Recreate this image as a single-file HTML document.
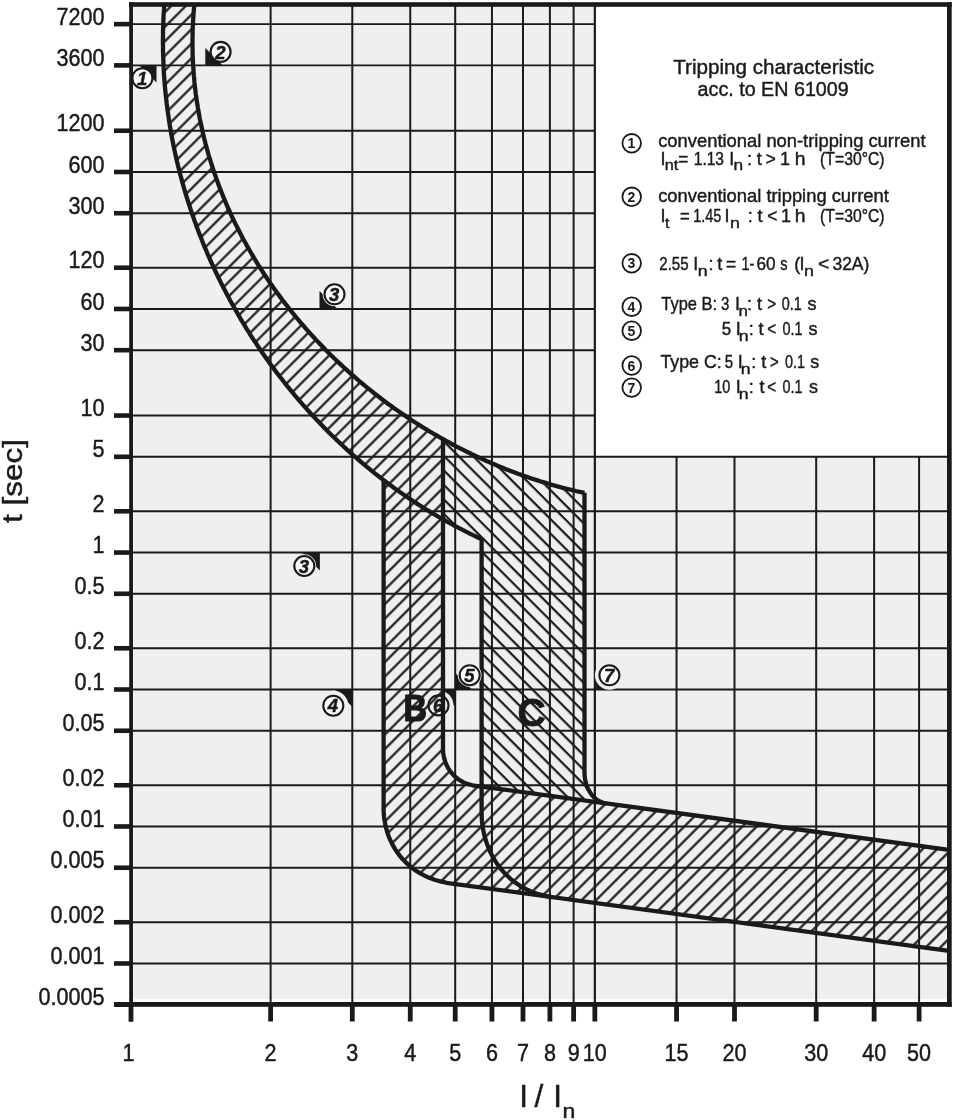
<!DOCTYPE html>
<html><head><meta charset="utf-8"><style>
html,body{margin:0;padding:0;background:#fff;}
svg{display:block;font-family:"Liberation Sans", sans-serif;will-change:transform;}
</style></head><body>
<svg width="953" height="1120" viewBox="0 0 953 1120"><defs><pattern id="hs" patternUnits="userSpaceOnUse" width="10.25" height="10.25" patternTransform="rotate(45)"><rect x="1.2" y="0" width="2.2" height="10.25" fill="#1a1a1a"/></pattern><pattern id="hb" patternUnits="userSpaceOnUse" width="10.25" height="10.25" patternTransform="rotate(-45)"><rect x="0.6" y="0" width="2.2" height="10.25" fill="#1a1a1a"/></pattern></defs><rect width="953" height="1120" fill="#fff"/><rect x="133.5" y="6" width="814" height="993" fill="#efefef"/><rect x="596" y="6" width="352" height="450.5" fill="#fff"/><line x1="270.61" y1="5.0" x2="270.61" y2="1003" stroke="#1a1a1a" stroke-width="2.0"/><line x1="352.30" y1="5.0" x2="352.30" y2="1003" stroke="#1a1a1a" stroke-width="2.0"/><line x1="410.25" y1="5.0" x2="410.25" y2="1003" stroke="#1a1a1a" stroke-width="2.0"/><line x1="455.21" y1="5.0" x2="455.21" y2="1003" stroke="#1a1a1a" stroke-width="2.0"/><line x1="491.94" y1="5.0" x2="491.94" y2="1003" stroke="#1a1a1a" stroke-width="2.0"/><line x1="522.99" y1="5.0" x2="522.99" y2="1003" stroke="#1a1a1a" stroke-width="2.0"/><line x1="549.90" y1="5.0" x2="549.90" y2="1003" stroke="#1a1a1a" stroke-width="2.0"/><line x1="573.62" y1="5.0" x2="573.62" y2="1003" stroke="#1a1a1a" stroke-width="2.0"/><line x1="594.85" y1="5.0" x2="594.85" y2="1003" stroke="#1a1a1a" stroke-width="2.2"/><line x1="676.54" y1="456.8" x2="676.54" y2="1003" stroke="#1a1a1a" stroke-width="2.0"/><line x1="734.49" y1="456.8" x2="734.49" y2="1003" stroke="#1a1a1a" stroke-width="2.0"/><line x1="816.18" y1="456.8" x2="816.18" y2="1003" stroke="#1a1a1a" stroke-width="2.0"/><line x1="874.13" y1="456.8" x2="874.13" y2="1003" stroke="#1a1a1a" stroke-width="2.0"/><line x1="919.09" y1="456.8" x2="919.09" y2="1003" stroke="#1a1a1a" stroke-width="2.0"/><line x1="131" y1="24.15" x2="594.9" y2="24.15" stroke="#1a1a1a" stroke-width="1.9"/><line x1="131" y1="65.39" x2="594.9" y2="65.39" stroke="#1a1a1a" stroke-width="1.9"/><line x1="131" y1="130.74" x2="594.9" y2="130.74" stroke="#1a1a1a" stroke-width="1.9"/><line x1="131" y1="171.98" x2="594.9" y2="171.98" stroke="#1a1a1a" stroke-width="1.9"/><line x1="131" y1="213.21" x2="594.9" y2="213.21" stroke="#1a1a1a" stroke-width="1.9"/><line x1="131" y1="267.72" x2="594.9" y2="267.72" stroke="#1a1a1a" stroke-width="1.9"/><line x1="131" y1="308.96" x2="594.9" y2="308.96" stroke="#1a1a1a" stroke-width="1.9"/><line x1="131" y1="350.19" x2="594.9" y2="350.19" stroke="#1a1a1a" stroke-width="1.9"/><line x1="131" y1="415.55" x2="594.9" y2="415.55" stroke="#1a1a1a" stroke-width="1.9"/><line x1="131" y1="456.79" x2="949.0" y2="456.79" stroke="#1a1a1a" stroke-width="1.9"/><line x1="131" y1="511.29" x2="949.0" y2="511.29" stroke="#1a1a1a" stroke-width="1.9"/><line x1="131" y1="552.53" x2="949.0" y2="552.53" stroke="#1a1a1a" stroke-width="1.9"/><line x1="131" y1="593.77" x2="949.0" y2="593.77" stroke="#1a1a1a" stroke-width="1.9"/><line x1="131" y1="648.27" x2="949.0" y2="648.27" stroke="#1a1a1a" stroke-width="1.9"/><line x1="131" y1="689.51" x2="949.0" y2="689.51" stroke="#1a1a1a" stroke-width="1.9"/><line x1="131" y1="730.75" x2="949.0" y2="730.75" stroke="#1a1a1a" stroke-width="1.9"/><line x1="131" y1="785.25" x2="949.0" y2="785.25" stroke="#1a1a1a" stroke-width="1.9"/><line x1="131" y1="826.49" x2="949.0" y2="826.49" stroke="#1a1a1a" stroke-width="1.9"/><line x1="131" y1="867.73" x2="949.0" y2="867.73" stroke="#1a1a1a" stroke-width="1.9"/><line x1="131" y1="922.23" x2="949.0" y2="922.23" stroke="#1a1a1a" stroke-width="1.9"/><line x1="131" y1="963.47" x2="949.0" y2="963.47" stroke="#1a1a1a" stroke-width="1.9"/><path d="M455.3,689.9 L438.3,689.9 L455.3,706.9 Z" fill="#1a1a1a"/><circle cx="438.5" cy="705.4" r="15" fill="#efefef"/><path d="M164.3,4.0 L164.1,6.6 L164.0,9.4 L163.8,12.2 L163.6,14.9 L163.5,17.7 L163.4,20.5 L163.3,23.3 L163.2,26.1 L163.1,28.9 L163.0,31.6 L163.0,34.4 L163.0,37.2 L162.9,40.0 L162.9,42.8 L163.0,45.5 L163.0,48.3 L163.0,51.1 L163.1,53.9 L163.2,56.6 L163.3,59.4 L163.4,62.2 L163.5,65.0 L163.6,67.7 L163.8,70.5 L163.9,73.3 L164.1,76.0 L164.3,78.8 L164.5,81.5 L164.7,84.3 L165.0,87.1 L165.2,89.8 L165.5,92.6 L165.8,95.3 L166.1,98.1 L166.4,100.8 L166.7,103.6 L167.1,106.3 L167.4,109.1 L167.8,111.8 L168.2,114.5 L168.6,117.3 L169.0,120.0 L169.4,122.7 L169.8,125.5 L170.3,128.2 L170.8,130.9 L171.2,133.6 L171.7,136.3 L172.3,139.1 L172.8,141.8 L173.3,144.5 L173.9,147.2 L174.4,149.9 L175.0,152.6 L175.6,155.3 L176.2,158.0 L176.8,160.7 L177.5,163.4 L178.1,166.0 L178.8,168.7 L179.5,171.4 L180.1,174.1 L180.9,176.7 L181.6,179.4 L182.3,182.1 L183.0,184.7 L183.8,187.4 L184.6,190.0 L185.3,192.7 L186.1,195.3 L187.0,198.0 L187.8,200.6 L188.6,203.2 L189.5,205.8 L190.3,208.5 L191.2,211.1 L192.1,213.7 L193.0,216.3 L193.9,218.9 L194.8,221.5 L195.8,224.1 L196.7,226.7 L197.7,229.3 L198.7,231.9 L199.6,234.4 L200.7,237.0 L201.7,239.6 L202.7,242.2 L203.7,244.7 L204.8,247.3 L205.9,249.8 L206.9,252.3 L208.0,254.9 L209.1,257.4 L210.2,259.9 L211.4,262.5 L212.5,265.0 L213.7,267.5 L214.8,270.0 L216.0,272.5 L217.2,275.0 L218.4,277.5 L219.6,279.9 L220.8,282.4 L222.1,284.9 L223.3,287.4 L224.6,289.8 L225.9,292.3 L227.1,294.7 L228.4,297.1 L229.7,299.6 L231.1,302.0 L232.4,304.4 L233.7,306.8 L235.1,309.2 L236.5,311.6 L237.8,314.0 L239.2,316.4 L240.6,318.8 L242.0,321.2 L243.5,323.5 L244.9,325.9 L246.3,328.3 L247.8,330.6 L249.3,332.9 L250.7,335.3 L252.2,337.6 L253.7,339.9 L255.3,342.2 L256.8,344.5 L258.3,346.8 L259.9,349.1 L261.4,351.4 L263.0,353.7 L264.6,355.9 L266.2,358.2 L267.8,360.4 L269.4,362.7 L271.0,364.9 L272.6,367.1 L274.3,369.4 L275.9,371.6 L277.6,373.8 L279.3,376.0 L281.0,378.1 L282.7,380.3 L284.4,382.5 L286.1,384.7 L287.8,386.8 L289.6,388.9 L291.3,391.1 L293.1,393.2 L294.8,395.3 L296.6,397.4 L298.4,399.5 L300.2,401.6 L302.0,403.7 L303.8,405.8 L305.7,407.9 L307.5,409.9 L309.4,412.0 L311.2,414.0 L313.1,416.0 L315.0,418.0 L316.9,420.1 L318.8,422.1 L320.7,424.1 L322.6,426.0 L324.5,428.0 L326.5,430.0 L328.4,431.9 L330.4,433.9 L332.3,435.8 L334.3,437.7 L336.3,439.6 L338.3,441.5 L340.3,443.4 L342.3,445.3 L344.3,447.2 L346.4,449.1 L348.4,450.9 L350.5,452.8 L352.5,454.6 L354.6,456.4 L356.7,458.2 L358.8,460.0 L360.9,461.8 L363.0,463.6 L365.1,465.4 L367.2,467.1 L369.4,468.9 L371.5,470.6 L373.6,472.4 L375.8,474.1 L378.0,475.8 L380.2,477.5 L382.3,479.2 L383.6,480.1 L383.6,480.1 L383.6,808.0 L383.6,810.8 L383.8,813.6 L384.0,816.4 L384.3,819.1 L384.8,821.8 L385.3,824.5 L385.9,827.1 L386.6,829.7 L387.3,832.3 L388.2,834.9 L389.1,837.3 L390.2,839.8 L391.3,842.2 L392.5,844.6 L393.8,846.9 L395.1,849.1 L396.6,851.4 L398.1,853.5 L399.7,855.6 L401.4,857.7 L403.1,859.6 L405.0,861.6 L406.9,863.4 L408.8,865.2 L410.9,866.9 L413.0,868.6 L415.2,870.2 L417.5,871.7 L419.8,873.1 L422.3,874.4 L424.7,875.7 L427.3,876.9 L429.9,878.0 L432.6,879.0 L435.3,880.0 L438.1,880.8 L441.0,881.6 L443.9,882.2 L446.9,882.8 L450.0,883.3 L949.0,950.9 L949.0,849.8 L474.0,785.5 L472.7,785.3 L471.5,785.0 L470.2,784.7 L469.0,784.4 L467.8,784.0 L466.6,783.6 L465.4,783.2 L464.2,782.7 L463.1,782.1 L462.0,781.5 L460.9,780.9 L459.8,780.2 L458.7,779.5 L457.7,778.8 L456.7,778.0 L455.7,777.2 L454.8,776.4 L453.9,775.5 L453.0,774.5 L452.1,773.6 L451.3,772.6 L450.5,771.6 L449.7,770.5 L449.0,769.4 L448.3,768.3 L447.7,767.1 L447.0,766.0 L446.5,764.7 L445.9,763.5 L445.4,762.2 L445.0,760.9 L444.6,759.6 L444.2,758.2 L443.9,756.8 L443.6,755.4 L443.4,754.0 L443.2,752.5 L443.1,751.0 L443.0,749.5 L443.0,748.0 L443.0,439.2 L441.1,438.1 L438.6,436.7 L436.1,435.2 L433.6,433.8 L431.2,432.3 L428.7,430.9 L426.3,429.4 L423.8,427.9 L421.4,426.4 L419.0,424.8 L416.5,423.3 L414.1,421.8 L411.7,420.2 L409.3,418.6 L407.0,417.0 L404.6,415.4 L402.2,413.8 L399.9,412.2 L397.5,410.5 L395.2,408.9 L392.8,407.2 L390.5,405.5 L388.2,403.9 L385.9,402.2 L383.6,400.4 L381.3,398.7 L379.1,397.0 L376.8,395.2 L374.5,393.5 L372.3,391.7 L370.1,389.9 L367.8,388.1 L365.6,386.3 L363.4,384.5 L361.2,382.6 L359.0,380.8 L356.8,378.9 L354.7,377.0 L352.5,375.2 L350.4,373.3 L348.3,371.4 L346.1,369.4 L344.0,367.5 L341.9,365.6 L339.8,363.6 L337.7,361.7 L335.7,359.7 L333.6,357.7 L331.6,355.7 L329.5,353.7 L327.5,351.7 L325.5,349.7 L323.5,347.6 L321.5,345.6 L319.5,343.5 L317.6,341.4 L315.6,339.4 L313.7,337.3 L311.8,335.2 L309.8,333.1 L307.9,330.9 L306.0,328.8 L304.2,326.7 L302.3,324.5 L300.4,322.3 L298.6,320.2 L296.8,318.0 L295.0,315.8 L293.2,313.6 L291.4,311.4 L289.6,309.1 L287.8,306.9 L286.1,304.7 L284.3,302.4 L282.6,300.2 L280.9,297.9 L279.2,295.6 L277.5,293.3 L275.9,291.0 L274.2,288.7 L272.6,286.4 L270.9,284.1 L269.3,281.7 L267.7,279.4 L266.1,277.0 L264.6,274.7 L263.0,272.3 L261.5,269.9 L260.0,267.5 L258.4,265.1 L256.9,262.7 L255.5,260.3 L254.0,257.9 L252.5,255.4 L251.1,253.0 L249.7,250.5 L248.3,248.1 L246.9,245.6 L245.5,243.1 L244.2,240.7 L242.8,238.2 L241.5,235.7 L240.2,233.2 L238.9,230.6 L237.6,228.1 L236.3,225.6 L235.1,223.1 L233.8,220.5 L232.6,218.0 L231.4,215.4 L230.2,212.8 L229.1,210.2 L227.9,207.7 L226.8,205.1 L225.7,202.5 L224.6,199.9 L223.5,197.3 L222.4,194.6 L221.4,192.0 L220.4,189.4 L219.3,186.7 L218.3,184.1 L217.4,181.4 L216.4,178.8 L215.5,176.1 L214.5,173.4 L213.6,170.7 L212.7,168.0 L211.9,165.3 L211.0,162.6 L210.2,159.9 L209.3,157.2 L208.5,154.5 L207.8,151.8 L207.0,149.0 L206.3,146.3 L205.5,143.6 L204.8,140.8 L204.1,138.0 L203.5,135.3 L202.8,132.5 L202.2,129.7 L201.6,127.0 L201.0,124.2 L200.4,121.4 L199.8,118.6 L199.3,115.8 L198.8,113.0 L198.3,110.2 L197.8,107.3 L197.4,104.5 L196.9,101.7 L196.5,98.8 L196.1,96.0 L195.7,93.2 L195.4,90.3 L195.0,87.4 L194.7,84.6 L194.4,81.7 L194.2,78.8 L193.9,76.0 L193.7,73.1 L193.5,70.2 L193.3,67.3 L193.1,64.4 L192.9,61.5 L192.8,58.6 L192.7,55.7 L192.6,52.8 L192.6,49.9 L192.5,47.0 L192.5,44.0 L192.5,41.1 L192.5,38.2 L192.6,35.3 L192.6,32.3 L192.7,29.4 L192.8,26.4 L193.0,23.5 L193.1,20.5 L193.3,17.6 L193.5,14.6 L193.7,11.6 L193.9,8.7 L194.2,5.7 L194.5,4.0 Z" fill="url(#hs)"/><path d="M443.0,439.2 L443.6,439.5 L446.1,440.9 L448.6,442.2 L451.1,443.6 L453.6,445.0 L456.1,446.3 L458.7,447.6 L461.2,448.9 L463.8,450.2 L466.3,451.5 L468.9,452.7 L471.4,454.0 L474.0,455.2 L476.6,456.4 L479.2,457.7 L481.8,458.8 L484.4,460.0 L487.0,461.2 L489.6,462.3 L492.2,463.5 L494.8,464.6 L497.5,465.7 L500.1,466.8 L502.7,467.8 L505.4,468.9 L508.0,470.0 L510.7,471.0 L513.4,472.0 L516.0,473.0 L518.7,474.0 L521.4,474.9 L524.0,475.9 L526.7,476.8 L529.4,477.7 L532.1,478.7 L534.8,479.5 L537.5,480.4 L540.2,481.3 L542.9,482.1 L545.7,482.9 L548.4,483.8 L551.1,484.6 L553.8,485.3 L556.6,486.1 L559.3,486.8 L562.0,487.6 L564.8,488.3 L567.5,489.0 L570.3,489.7 L573.0,490.3 L575.8,491.0 L578.5,491.6 L581.3,492.2 L584.5,492.8 L584.5,772.0 L584.5,773.3 L584.6,774.5 L584.7,775.8 L584.8,777.0 L584.9,778.2 L585.1,779.4 L585.3,780.6 L585.6,781.7 L585.9,782.8 L586.2,783.9 L586.5,785.0 L586.9,786.1 L587.3,787.1 L587.7,788.1 L588.2,789.1 L588.7,790.0 L589.2,790.9 L589.7,791.8 L590.2,792.7 L590.8,793.5 L591.4,794.3 L592.0,795.1 L592.7,795.9 L593.3,796.6 L594.0,797.3 L594.7,797.9 L595.4,798.5 L596.1,799.1 L596.9,799.7 L597.7,800.2 L598.4,800.7 L599.2,801.1 L600.0,801.5 L600.8,801.9 L601.7,802.2 L602.5,802.5 L603.4,802.8 L604.2,803.0 L605.1,803.2 L606.0,803.3 L481.6,786.5 L481.6,539.1 L479.0,538.0 L476.5,536.8 L474.0,535.6 L471.5,534.4 L469.0,533.2 L466.5,531.9 L464.1,530.7 L461.6,529.4 L459.1,528.1 L456.7,526.9 L454.2,525.6 L451.8,524.2 L449.4,522.9 L446.9,521.6 L444.5,520.2 L443.0,519.4 Z" fill="url(#hb)"/><path d="M164.3,4.0 L164.1,6.6 L164.0,9.4 L163.8,12.2 L163.6,14.9 L163.5,17.7 L163.4,20.5 L163.3,23.3 L163.2,26.1 L163.1,28.9 L163.0,31.6 L163.0,34.4 L163.0,37.2 L162.9,40.0 L162.9,42.8 L163.0,45.5 L163.0,48.3 L163.0,51.1 L163.1,53.9 L163.2,56.6 L163.3,59.4 L163.4,62.2 L163.5,65.0 L163.6,67.7 L163.8,70.5 L163.9,73.3 L164.1,76.0 L164.3,78.8 L164.5,81.5 L164.7,84.3 L165.0,87.1 L165.2,89.8 L165.5,92.6 L165.8,95.3 L166.1,98.1 L166.4,100.8 L166.7,103.6 L167.1,106.3 L167.4,109.1 L167.8,111.8 L168.2,114.5 L168.6,117.3 L169.0,120.0 L169.4,122.7 L169.8,125.5 L170.3,128.2 L170.8,130.9 L171.2,133.6 L171.7,136.3 L172.3,139.1 L172.8,141.8 L173.3,144.5 L173.9,147.2 L174.4,149.9 L175.0,152.6 L175.6,155.3 L176.2,158.0 L176.8,160.7 L177.5,163.4 L178.1,166.0 L178.8,168.7 L179.5,171.4 L180.1,174.1 L180.9,176.7 L181.6,179.4 L182.3,182.1 L183.0,184.7 L183.8,187.4 L184.6,190.0 L185.3,192.7 L186.1,195.3 L187.0,198.0 L187.8,200.6 L188.6,203.2 L189.5,205.8 L190.3,208.5 L191.2,211.1 L192.1,213.7 L193.0,216.3 L193.9,218.9 L194.8,221.5 L195.8,224.1 L196.7,226.7 L197.7,229.3 L198.7,231.9 L199.6,234.4 L200.7,237.0 L201.7,239.6 L202.7,242.2 L203.7,244.7 L204.8,247.3 L205.9,249.8 L206.9,252.3 L208.0,254.9 L209.1,257.4 L210.2,259.9 L211.4,262.5 L212.5,265.0 L213.7,267.5 L214.8,270.0 L216.0,272.5 L217.2,275.0 L218.4,277.5 L219.6,279.9 L220.8,282.4 L222.1,284.9 L223.3,287.4 L224.6,289.8 L225.9,292.3 L227.1,294.7 L228.4,297.1 L229.7,299.6 L231.1,302.0 L232.4,304.4 L233.7,306.8 L235.1,309.2 L236.5,311.6 L237.8,314.0 L239.2,316.4 L240.6,318.8 L242.0,321.2 L243.5,323.5 L244.9,325.9 L246.3,328.3 L247.8,330.6 L249.3,332.9 L250.7,335.3 L252.2,337.6 L253.7,339.9 L255.3,342.2 L256.8,344.5 L258.3,346.8 L259.9,349.1 L261.4,351.4 L263.0,353.7 L264.6,355.9 L266.2,358.2 L267.8,360.4 L269.4,362.7 L271.0,364.9 L272.6,367.1 L274.3,369.4 L275.9,371.6 L277.6,373.8 L279.3,376.0 L281.0,378.1 L282.7,380.3 L284.4,382.5 L286.1,384.7 L287.8,386.8 L289.6,388.9 L291.3,391.1 L293.1,393.2 L294.8,395.3 L296.6,397.4 L298.4,399.5 L300.2,401.6 L302.0,403.7 L303.8,405.8 L305.7,407.9 L307.5,409.9 L309.4,412.0 L311.2,414.0 L313.1,416.0 L315.0,418.0 L316.9,420.1 L318.8,422.1 L320.7,424.1 L322.6,426.0 L324.5,428.0 L326.5,430.0 L328.4,431.9 L330.4,433.9 L332.3,435.8 L334.3,437.7 L336.3,439.6 L338.3,441.5 L340.3,443.4 L342.3,445.3 L344.3,447.2 L346.4,449.1 L348.4,450.9 L350.5,452.8 L352.5,454.6 L354.6,456.4 L356.7,458.2 L358.8,460.0 L360.9,461.8 L363.0,463.6 L365.1,465.4 L367.2,467.1 L369.4,468.9 L371.5,470.6 L373.6,472.4 L375.8,474.1 L378.0,475.8 L380.2,477.5 L382.3,479.2 L384.5,480.8 L386.7,482.5 L389.0,484.1 L391.2,485.8 L393.4,487.4 L395.6,489.0 L397.9,490.6 L400.1,492.2 L402.4,493.8 L404.7,495.4 L407.0,496.9 L409.2,498.5 L411.5,500.0 L413.8,501.5 L416.2,503.1 L418.5,504.6 L420.8,506.0 L423.1,507.5 L425.5,509.0 L427.8,510.4 L430.2,511.9 L432.6,513.3 L434.9,514.7 L437.3,516.1 L439.7,517.5 L442.1,518.9 L444.5,520.2 L446.9,521.6 L449.4,522.9 L451.8,524.2 L454.2,525.6 L456.7,526.9 L459.1,528.1 L461.6,529.4 L464.1,530.7 L466.5,531.9 L469.0,533.2 L471.5,534.4 L474.0,535.6 L476.5,536.8 L479.0,538.0 L481.6,539.1 L481.6,539.1" fill="none" stroke="#1a1a1a" stroke-width="4.3" stroke-linejoin="round"/><path d="M194.5,4.0 L194.2,5.7 L193.9,8.7 L193.7,11.6 L193.5,14.6 L193.3,17.6 L193.1,20.5 L193.0,23.5 L192.8,26.4 L192.7,29.4 L192.6,32.3 L192.6,35.3 L192.5,38.2 L192.5,41.1 L192.5,44.0 L192.5,47.0 L192.6,49.9 L192.6,52.8 L192.7,55.7 L192.8,58.6 L192.9,61.5 L193.1,64.4 L193.3,67.3 L193.5,70.2 L193.7,73.1 L193.9,76.0 L194.2,78.8 L194.4,81.7 L194.7,84.6 L195.0,87.4 L195.4,90.3 L195.7,93.2 L196.1,96.0 L196.5,98.8 L196.9,101.7 L197.4,104.5 L197.8,107.3 L198.3,110.2 L198.8,113.0 L199.3,115.8 L199.8,118.6 L200.4,121.4 L201.0,124.2 L201.6,127.0 L202.2,129.7 L202.8,132.5 L203.5,135.3 L204.1,138.0 L204.8,140.8 L205.5,143.6 L206.3,146.3 L207.0,149.0 L207.8,151.8 L208.5,154.5 L209.3,157.2 L210.2,159.9 L211.0,162.6 L211.9,165.3 L212.7,168.0 L213.6,170.7 L214.5,173.4 L215.5,176.1 L216.4,178.8 L217.4,181.4 L218.3,184.1 L219.3,186.7 L220.4,189.4 L221.4,192.0 L222.4,194.6 L223.5,197.3 L224.6,199.9 L225.7,202.5 L226.8,205.1 L227.9,207.7 L229.1,210.2 L230.2,212.8 L231.4,215.4 L232.6,218.0 L233.8,220.5 L235.1,223.1 L236.3,225.6 L237.6,228.1 L238.9,230.6 L240.2,233.2 L241.5,235.7 L242.8,238.2 L244.2,240.7 L245.5,243.1 L246.9,245.6 L248.3,248.1 L249.7,250.5 L251.1,253.0 L252.5,255.4 L254.0,257.9 L255.5,260.3 L256.9,262.7 L258.4,265.1 L260.0,267.5 L261.5,269.9 L263.0,272.3 L264.6,274.7 L266.1,277.0 L267.7,279.4 L269.3,281.7 L270.9,284.1 L272.6,286.4 L274.2,288.7 L275.9,291.0 L277.5,293.3 L279.2,295.6 L280.9,297.9 L282.6,300.2 L284.3,302.4 L286.1,304.7 L287.8,306.9 L289.6,309.1 L291.4,311.4 L293.2,313.6 L295.0,315.8 L296.8,318.0 L298.6,320.2 L300.4,322.3 L302.3,324.5 L304.2,326.7 L306.0,328.8 L307.9,330.9 L309.8,333.1 L311.8,335.2 L313.7,337.3 L315.6,339.4 L317.6,341.4 L319.5,343.5 L321.5,345.6 L323.5,347.6 L325.5,349.7 L327.5,351.7 L329.5,353.7 L331.6,355.7 L333.6,357.7 L335.7,359.7 L337.7,361.7 L339.8,363.6 L341.9,365.6 L344.0,367.5 L346.1,369.4 L348.3,371.4 L350.4,373.3 L352.5,375.2 L354.7,377.0 L356.8,378.9 L359.0,380.8 L361.2,382.6 L363.4,384.5 L365.6,386.3 L367.8,388.1 L370.1,389.9 L372.3,391.7 L374.5,393.5 L376.8,395.2 L379.1,397.0 L381.3,398.7 L383.6,400.4 L385.9,402.2 L388.2,403.9 L390.5,405.5 L392.8,407.2 L395.2,408.9 L397.5,410.5 L399.9,412.2 L402.2,413.8 L404.6,415.4 L407.0,417.0 L409.3,418.6 L411.7,420.2 L414.1,421.8 L416.5,423.3 L419.0,424.8 L421.4,426.4 L423.8,427.9 L426.3,429.4 L428.7,430.9 L431.2,432.3 L433.6,433.8 L436.1,435.2 L438.6,436.7 L441.1,438.1 L443.6,439.5 L446.1,440.9 L448.6,442.2 L451.1,443.6 L453.6,445.0 L456.1,446.3 L458.7,447.6 L461.2,448.9 L463.8,450.2 L466.3,451.5 L468.9,452.7 L471.4,454.0 L474.0,455.2 L476.6,456.4 L479.2,457.7 L481.8,458.8 L484.4,460.0 L487.0,461.2 L489.6,462.3 L492.2,463.5 L494.8,464.6 L497.5,465.7 L500.1,466.8 L502.7,467.8 L505.4,468.9 L508.0,470.0 L510.7,471.0 L513.4,472.0 L516.0,473.0 L518.7,474.0 L521.4,474.9 L524.0,475.9 L526.7,476.8 L529.4,477.7 L532.1,478.7 L534.8,479.5 L537.5,480.4 L540.2,481.3 L542.9,482.1 L545.7,482.9 L548.4,483.8 L551.1,484.6 L553.8,485.3 L556.6,486.1 L559.3,486.8 L562.0,487.6 L564.8,488.3 L567.5,489.0 L570.3,489.7 L573.0,490.3 L575.8,491.0 L578.5,491.6 L581.3,492.2 L584.5,492.8 L584.5,492.8" fill="none" stroke="#1a1a1a" stroke-width="4.3" stroke-linejoin="round"/><path d="M383.6,480.1 L383.6,808.0 L383.6,810.8 L383.8,813.6 L384.0,816.4 L384.3,819.1 L384.8,821.8 L385.3,824.5 L385.9,827.1 L386.6,829.7 L387.3,832.3 L388.2,834.9 L389.1,837.3 L390.2,839.8 L391.3,842.2 L392.5,844.6 L393.8,846.9 L395.1,849.1 L396.6,851.4 L398.1,853.5 L399.7,855.6 L401.4,857.7 L403.1,859.6 L405.0,861.6 L406.9,863.4 L408.8,865.2 L410.9,866.9 L413.0,868.6 L415.2,870.2 L417.5,871.7 L419.8,873.1 L422.3,874.4 L424.7,875.7 L427.3,876.9 L429.9,878.0 L432.6,879.0 L435.3,880.0 L438.1,880.8 L441.0,881.6 L443.9,882.2 L446.9,882.8 L450.0,883.3 L949.0,950.9" fill="none" stroke="#1a1a1a" stroke-width="4.3" stroke-linejoin="round"/><path d="M443.0,439.2 L443.0,748.0 L443.0,749.5 L443.1,751.0 L443.2,752.5 L443.4,754.0 L443.6,755.4 L443.9,756.8 L444.2,758.2 L444.6,759.6 L445.0,760.9 L445.4,762.2 L445.9,763.5 L446.5,764.7 L447.0,766.0 L447.7,767.1 L448.3,768.3 L449.0,769.4 L449.7,770.5 L450.5,771.6 L451.3,772.6 L452.1,773.6 L453.0,774.5 L453.9,775.5 L454.8,776.4 L455.7,777.2 L456.7,778.0 L457.7,778.8 L458.7,779.5 L459.8,780.2 L460.9,780.9 L462.0,781.5 L463.1,782.1 L464.2,782.7 L465.4,783.2 L466.6,783.6 L467.8,784.0 L469.0,784.4 L470.2,784.7 L471.5,785.0 L472.7,785.3 L474.0,785.5 L949.0,849.8" fill="none" stroke="#1a1a1a" stroke-width="4.3" stroke-linejoin="round"/><path d="M481.6,539.1 L481.6,812.0 L481.7,815.2 L481.8,818.3 L482.0,821.5 L482.4,824.6 L482.8,827.6 L483.4,830.7 L484.0,833.7 L484.7,836.6 L485.6,839.5 L486.5,842.4 L487.5,845.2 L488.6,848.0 L489.7,850.8 L491.0,853.4 L492.4,856.1 L493.8,858.6 L495.3,861.1 L497.0,863.6 L498.7,866.0 L500.4,868.3 L502.3,870.5 L504.2,872.7 L506.3,874.8 L508.4,876.8 L510.5,878.8 L512.8,880.7 L515.1,882.4 L517.5,884.1 L520.0,885.8 L522.6,887.3 L525.2,888.7 L527.9,890.1 L530.7,891.3 L533.5,892.4 L536.4,893.5 L539.4,894.4 L542.5,895.2 L545.6,896.0 L548.8,896.6 L552.0,897.1" fill="none" stroke="#1a1a1a" stroke-width="4.3" stroke-linejoin="round"/><path d="M584.5,492.8 L584.5,772.0 L584.5,773.3 L584.6,774.5 L584.7,775.8 L584.8,777.0 L584.9,778.2 L585.1,779.4 L585.3,780.6 L585.6,781.7 L585.9,782.8 L586.2,783.9 L586.5,785.0 L586.9,786.1 L587.3,787.1 L587.7,788.1 L588.2,789.1 L588.7,790.0 L589.2,790.9 L589.7,791.8 L590.2,792.7 L590.8,793.5 L591.4,794.3 L592.0,795.1 L592.7,795.9 L593.3,796.6 L594.0,797.3 L594.7,797.9 L595.4,798.5 L596.1,799.1 L596.9,799.7 L597.7,800.2 L598.4,800.7 L599.2,801.1 L600.0,801.5 L600.8,801.9 L601.7,802.2 L602.5,802.5 L603.4,802.8 L604.2,803.0 L605.1,803.2 L606.0,803.3" fill="none" stroke="#1a1a1a" stroke-width="4.3" stroke-linejoin="round"/><rect x="129" y="2.2" width="822.7" height="4.6" fill="#1a1a1a"/><rect x="947" y="2.2" width="4.7" height="1004.6" fill="#1a1a1a"/><rect x="129.2" y="2.2" width="3.8" height="1019.4" fill="#1a1a1a"/><rect x="114" y="1002" width="837.7" height="4.8" fill="#1a1a1a"/><rect x="114" y="21.85" width="17" height="4.6" fill="#1a1a1a"/><text transform="translate(104.50,24.75) scale(0.93,1)" text-anchor="end" font-size="23.2" fill="#1a1a1a" stroke="#1a1a1a" stroke-width="0.45">7200</text><rect x="114" y="63.09" width="17" height="4.6" fill="#1a1a1a"/><text transform="translate(104.50,65.99) scale(0.93,1)" text-anchor="end" font-size="23.2" fill="#1a1a1a" stroke="#1a1a1a" stroke-width="0.45">3600</text><rect x="114" y="128.44" width="17" height="4.6" fill="#1a1a1a"/><text transform="translate(104.50,131.34) scale(0.93,1)" text-anchor="end" font-size="23.2" fill="#1a1a1a" stroke="#1a1a1a" stroke-width="0.45">1200</text><rect x="114" y="169.68" width="17" height="4.6" fill="#1a1a1a"/><text transform="translate(104.50,172.58) scale(0.93,1)" text-anchor="end" font-size="23.2" fill="#1a1a1a" stroke="#1a1a1a" stroke-width="0.45">600</text><rect x="114" y="210.91" width="17" height="4.6" fill="#1a1a1a"/><text transform="translate(104.50,213.81) scale(0.93,1)" text-anchor="end" font-size="23.2" fill="#1a1a1a" stroke="#1a1a1a" stroke-width="0.45">300</text><rect x="114" y="265.42" width="17" height="4.6" fill="#1a1a1a"/><text transform="translate(104.50,268.32) scale(0.93,1)" text-anchor="end" font-size="23.2" fill="#1a1a1a" stroke="#1a1a1a" stroke-width="0.45">120</text><rect x="114" y="306.66" width="17" height="4.6" fill="#1a1a1a"/><text transform="translate(104.50,309.56) scale(0.93,1)" text-anchor="end" font-size="23.2" fill="#1a1a1a" stroke="#1a1a1a" stroke-width="0.45">60</text><rect x="114" y="347.89" width="17" height="4.6" fill="#1a1a1a"/><text transform="translate(104.50,350.79) scale(0.93,1)" text-anchor="end" font-size="23.2" fill="#1a1a1a" stroke="#1a1a1a" stroke-width="0.45">30</text><rect x="114" y="413.25" width="17" height="4.6" fill="#1a1a1a"/><text transform="translate(104.50,416.15) scale(0.93,1)" text-anchor="end" font-size="23.2" fill="#1a1a1a" stroke="#1a1a1a" stroke-width="0.45">10</text><rect x="114" y="454.49" width="17" height="4.6" fill="#1a1a1a"/><text transform="translate(104.50,457.39) scale(0.93,1)" text-anchor="end" font-size="23.2" fill="#1a1a1a" stroke="#1a1a1a" stroke-width="0.45">5</text><rect x="114" y="508.99" width="17" height="4.6" fill="#1a1a1a"/><text transform="translate(104.50,511.89) scale(0.93,1)" text-anchor="end" font-size="23.2" fill="#1a1a1a" stroke="#1a1a1a" stroke-width="0.45">2</text><rect x="114" y="550.23" width="17" height="4.6" fill="#1a1a1a"/><text transform="translate(104.50,553.13) scale(0.93,1)" text-anchor="end" font-size="23.2" fill="#1a1a1a" stroke="#1a1a1a" stroke-width="0.45">1</text><rect x="114" y="591.47" width="17" height="4.6" fill="#1a1a1a"/><text transform="translate(104.50,594.37) scale(0.93,1)" text-anchor="end" font-size="23.2" fill="#1a1a1a" stroke="#1a1a1a" stroke-width="0.45">0.5</text><rect x="114" y="645.97" width="17" height="4.6" fill="#1a1a1a"/><text transform="translate(104.50,648.87) scale(0.93,1)" text-anchor="end" font-size="23.2" fill="#1a1a1a" stroke="#1a1a1a" stroke-width="0.45">0.2</text><rect x="114" y="687.21" width="17" height="4.6" fill="#1a1a1a"/><text transform="translate(104.50,690.11) scale(0.93,1)" text-anchor="end" font-size="23.2" fill="#1a1a1a" stroke="#1a1a1a" stroke-width="0.45">0.1</text><rect x="114" y="728.45" width="17" height="4.6" fill="#1a1a1a"/><text transform="translate(104.50,731.35) scale(0.93,1)" text-anchor="end" font-size="23.2" fill="#1a1a1a" stroke="#1a1a1a" stroke-width="0.45">0.05</text><rect x="114" y="782.95" width="17" height="4.6" fill="#1a1a1a"/><text transform="translate(104.50,785.85) scale(0.93,1)" text-anchor="end" font-size="23.2" fill="#1a1a1a" stroke="#1a1a1a" stroke-width="0.45">0.02</text><rect x="114" y="824.19" width="17" height="4.6" fill="#1a1a1a"/><text transform="translate(104.50,827.09) scale(0.93,1)" text-anchor="end" font-size="23.2" fill="#1a1a1a" stroke="#1a1a1a" stroke-width="0.45">0.01</text><rect x="114" y="865.43" width="17" height="4.6" fill="#1a1a1a"/><text transform="translate(104.50,868.33) scale(0.93,1)" text-anchor="end" font-size="23.2" fill="#1a1a1a" stroke="#1a1a1a" stroke-width="0.45">0.005</text><rect x="114" y="919.93" width="17" height="4.6" fill="#1a1a1a"/><text transform="translate(104.50,922.83) scale(0.93,1)" text-anchor="end" font-size="23.2" fill="#1a1a1a" stroke="#1a1a1a" stroke-width="0.45">0.002</text><rect x="114" y="961.17" width="17" height="4.6" fill="#1a1a1a"/><text transform="translate(104.50,964.07) scale(0.93,1)" text-anchor="end" font-size="23.2" fill="#1a1a1a" stroke="#1a1a1a" stroke-width="0.45">0.001</text><rect x="114" y="1002.41" width="17" height="4.6" fill="#1a1a1a"/><text transform="translate(104.50,1005.31) scale(0.93,1)" text-anchor="end" font-size="23.2" fill="#1a1a1a" stroke="#1a1a1a" stroke-width="0.45">0.0005</text><rect x="128.57" y="1004" width="4.8" height="17.5" fill="#1a1a1a"/><text transform="translate(128.47,1060.80) scale(0.93,1)" text-anchor="middle" font-size="23.2" fill="#1a1a1a" stroke="#1a1a1a" stroke-width="0.45">1</text><rect x="268.21" y="1004" width="4.8" height="17.5" fill="#1a1a1a"/><text transform="translate(270.61,1060.80) scale(0.93,1)" text-anchor="middle" font-size="23.2" fill="#1a1a1a" stroke="#1a1a1a" stroke-width="0.45">2</text><rect x="349.90" y="1004" width="4.8" height="17.5" fill="#1a1a1a"/><text transform="translate(352.30,1060.80) scale(0.93,1)" text-anchor="middle" font-size="23.2" fill="#1a1a1a" stroke="#1a1a1a" stroke-width="0.45">3</text><rect x="407.85" y="1004" width="4.8" height="17.5" fill="#1a1a1a"/><text transform="translate(410.25,1060.80) scale(0.93,1)" text-anchor="middle" font-size="23.2" fill="#1a1a1a" stroke="#1a1a1a" stroke-width="0.45">4</text><rect x="452.81" y="1004" width="4.8" height="17.5" fill="#1a1a1a"/><text transform="translate(455.21,1060.80) scale(0.93,1)" text-anchor="middle" font-size="23.2" fill="#1a1a1a" stroke="#1a1a1a" stroke-width="0.45">5</text><rect x="489.54" y="1004" width="4.8" height="17.5" fill="#1a1a1a"/><text transform="translate(491.94,1060.80) scale(0.93,1)" text-anchor="middle" font-size="23.2" fill="#1a1a1a" stroke="#1a1a1a" stroke-width="0.45">6</text><rect x="520.59" y="1004" width="4.8" height="17.5" fill="#1a1a1a"/><text transform="translate(522.99,1060.80) scale(0.93,1)" text-anchor="middle" font-size="23.2" fill="#1a1a1a" stroke="#1a1a1a" stroke-width="0.45">7</text><rect x="547.50" y="1004" width="4.8" height="17.5" fill="#1a1a1a"/><text transform="translate(549.90,1060.80) scale(0.93,1)" text-anchor="middle" font-size="23.2" fill="#1a1a1a" stroke="#1a1a1a" stroke-width="0.45">8</text><rect x="571.22" y="1004" width="4.8" height="17.5" fill="#1a1a1a"/><text transform="translate(573.62,1060.80) scale(0.93,1)" text-anchor="middle" font-size="23.2" fill="#1a1a1a" stroke="#1a1a1a" stroke-width="0.45">9</text><rect x="592.45" y="1004" width="4.8" height="17.5" fill="#1a1a1a"/><text transform="translate(594.85,1060.80) scale(0.93,1)" text-anchor="middle" font-size="23.2" fill="#1a1a1a" stroke="#1a1a1a" stroke-width="0.45">10</text><rect x="674.14" y="1004" width="4.8" height="17.5" fill="#1a1a1a"/><text transform="translate(676.54,1060.80) scale(0.93,1)" text-anchor="middle" font-size="23.2" fill="#1a1a1a" stroke="#1a1a1a" stroke-width="0.45">15</text><rect x="732.09" y="1004" width="4.8" height="17.5" fill="#1a1a1a"/><text transform="translate(734.49,1060.80) scale(0.93,1)" text-anchor="middle" font-size="23.2" fill="#1a1a1a" stroke="#1a1a1a" stroke-width="0.45">20</text><rect x="813.78" y="1004" width="4.8" height="17.5" fill="#1a1a1a"/><text transform="translate(816.18,1060.80) scale(0.93,1)" text-anchor="middle" font-size="23.2" fill="#1a1a1a" stroke="#1a1a1a" stroke-width="0.45">30</text><rect x="871.73" y="1004" width="4.8" height="17.5" fill="#1a1a1a"/><text transform="translate(874.13,1060.80) scale(0.93,1)" text-anchor="middle" font-size="23.2" fill="#1a1a1a" stroke="#1a1a1a" stroke-width="0.45">40</text><rect x="916.69" y="1004" width="4.8" height="17.5" fill="#1a1a1a"/><text transform="translate(919.09,1060.80) scale(0.93,1)" text-anchor="middle" font-size="23.2" fill="#1a1a1a" stroke="#1a1a1a" stroke-width="0.45">50</text><text transform="translate(22.3,523) rotate(-90) scale(1.124,1)" font-size="28" fill="#1a1a1a" stroke="#1a1a1a" stroke-width="0.45">t [sec]</text><text x="519.3" y="1106.8" font-size="31.5" fill="#1a1a1a" stroke="#1a1a1a" stroke-width="0.45">I</text><text x="534.6" y="1106.8" font-size="31.5" fill="#1a1a1a" stroke="#1a1a1a" stroke-width="0.45">/</text><text x="553.3" y="1106.8" font-size="31.5" fill="#1a1a1a" stroke="#1a1a1a" stroke-width="0.45">I</text><text transform="translate(562.5,1117.6) scale(1.1,1)" font-size="21" fill="#1a1a1a" stroke="#1a1a1a" stroke-width="0.45">n</text><path d="M156.5,65.5 L139.5,65.5 L156.5,82.5 Z" fill="#1a1a1a"/><circle cx="142.4" cy="78.2" r="10.0" fill="#fbfbfb" stroke="#1a1a1a" stroke-width="2.1"/><text x="142.1" y="84.8" text-anchor="middle" font-size="18.5" font-weight="bold" font-style="italic" fill="#1a1a1a" stroke="#1a1a1a" stroke-width="0.5">1</text><path d="M205.3,65.0 L205.3,48.0 L222.3,65.0 Z" fill="#1a1a1a"/><circle cx="220.6" cy="51.9" r="10.0" fill="#fbfbfb" stroke="#1a1a1a" stroke-width="2.1"/><text x="220.29999999999998" y="58.5" text-anchor="middle" font-size="18.5" font-weight="bold" font-style="italic" fill="#1a1a1a" stroke="#1a1a1a" stroke-width="0.5">2</text><path d="M319.5,308.4 L319.5,290.9 L337.0,308.4 Z" fill="#1a1a1a"/><circle cx="334.5" cy="294.3" r="11.8" fill="#efefef"/><circle cx="334.5" cy="294.3" r="10.0" fill="#fbfbfb" stroke="#1a1a1a" stroke-width="2.1"/><text x="334.2" y="300.90000000000003" text-anchor="middle" font-size="18.5" font-weight="bold" font-style="italic" fill="#1a1a1a" stroke="#1a1a1a" stroke-width="0.5">3</text><path d="M319.9,552.6 L301.9,552.6 L319.9,570.6 Z" fill="#1a1a1a"/><circle cx="304.3" cy="566.0" r="11.8" fill="#efefef"/><circle cx="304.3" cy="566.0" r="10.0" fill="#fbfbfb" stroke="#1a1a1a" stroke-width="2.1"/><text x="304.0" y="572.6" text-anchor="middle" font-size="18.5" font-weight="bold" font-style="italic" fill="#1a1a1a" stroke="#1a1a1a" stroke-width="0.5">3</text><path d="M352.5,689.9 L335.5,689.9 L352.5,706.9 Z" fill="#1a1a1a"/><circle cx="333.3" cy="705.7" r="15.0" fill="#efefef"/><circle cx="333.3" cy="705.7" r="10.0" fill="#fbfbfb" stroke="#1a1a1a" stroke-width="2.1"/><text x="333.0" y="712.3000000000001" text-anchor="middle" font-size="18.5" font-weight="bold" font-style="italic" fill="#1a1a1a" stroke="#1a1a1a" stroke-width="0.5">4</text><path d="M455.3,689.9 L455.3,672.9 L472.3,689.9 Z" fill="#1a1a1a"/><circle cx="469.7" cy="675.2" r="11.8" fill="#efefef"/><circle cx="469.7" cy="675.2" r="10.0" fill="#fbfbfb" stroke="#1a1a1a" stroke-width="2.1"/><text x="469.4" y="681.8000000000001" text-anchor="middle" font-size="18.5" font-weight="bold" font-style="italic" fill="#1a1a1a" stroke="#1a1a1a" stroke-width="0.5">5</text><path d="M595.0,689.9 L595.0,672.9 L612.0,689.9 Z" fill="#1a1a1a"/><circle cx="609.4" cy="675.3" r="14.5" fill="#efefef"/><circle cx="609.4" cy="675.3" r="10.0" fill="#fbfbfb" stroke="#1a1a1a" stroke-width="2.1"/><text x="609.1" y="681.9" text-anchor="middle" font-size="18.5" font-weight="bold" font-style="italic" fill="#1a1a1a" stroke="#1a1a1a" stroke-width="0.5">7</text><circle cx="438.5" cy="705.4" r="10.0" fill="none" stroke="#1a1a1a" stroke-width="2.1"/><text x="438.2" y="712.0" text-anchor="middle" font-size="18.5" font-weight="bold" font-style="italic" fill="#1a1a1a" stroke="#1a1a1a" stroke-width="0.5">6</text><text transform="translate(403.5,721.3) scale(0.88,1)" font-size="37" font-weight="bold" fill="#1a1a1a" stroke="#1a1a1a" stroke-width="1.2">B</text><text x="517.5" y="725.7" font-size="39" font-weight="bold" fill="#1a1a1a" stroke="#1a1a1a" stroke-width="0.8">C</text><circle cx="631.7" cy="143.3" r="9.3" fill="none" stroke="#1a1a1a" stroke-width="1.8"/><text x="631.5" y="148.3" text-anchor="middle" font-size="14" font-weight="bold" fill="#1a1a1a">1</text><circle cx="631.7" cy="196.8" r="9.3" fill="none" stroke="#1a1a1a" stroke-width="1.8"/><text x="631.5" y="201.8" text-anchor="middle" font-size="14" font-weight="bold" fill="#1a1a1a">2</text><circle cx="631.7" cy="263.3" r="9.3" fill="none" stroke="#1a1a1a" stroke-width="1.8"/><text x="631.5" y="268.3" text-anchor="middle" font-size="14" font-weight="bold" fill="#1a1a1a">3</text><circle cx="631.7" cy="306.7" r="9.3" fill="none" stroke="#1a1a1a" stroke-width="1.8"/><text x="631.5" y="311.7" text-anchor="middle" font-size="14" font-weight="bold" fill="#1a1a1a">4</text><circle cx="631.7" cy="330.7" r="9.3" fill="none" stroke="#1a1a1a" stroke-width="1.8"/><text x="631.5" y="335.7" text-anchor="middle" font-size="14" font-weight="bold" fill="#1a1a1a">5</text><circle cx="631.7" cy="365.5" r="9.3" fill="none" stroke="#1a1a1a" stroke-width="1.8"/><text x="631.5" y="370.5" text-anchor="middle" font-size="14" font-weight="bold" fill="#1a1a1a">6</text><circle cx="631.7" cy="387.6" r="9.3" fill="none" stroke="#1a1a1a" stroke-width="1.8"/><text x="631.5" y="392.6" text-anchor="middle" font-size="14" font-weight="bold" fill="#1a1a1a">7</text><text transform="translate(673.30,74.10) scale(1.031,1)" font-size="20" fill="#1a1a1a" stroke="#1a1a1a" stroke-width="0.42">Tripping characteristic</text><text transform="translate(697.62,95.90) scale(0.985,1)" font-size="20" fill="#1a1a1a" stroke="#1a1a1a" stroke-width="0.42">acc. to EN 61009</text><text transform="translate(658.18,146.80) scale(1.021,1)" font-size="18" fill="#1a1a1a" stroke="#1a1a1a" stroke-width="0.42">conventional non-tripping current</text><text transform="translate(658.18,202.00) scale(1.021,1)" font-size="18" fill="#1a1a1a" stroke="#1a1a1a" stroke-width="0.42">conventional tripping current</text><text transform="translate(660.60,164.60) scale(1.0,1)" font-size="18" fill="#1a1a1a" stroke="#1a1a1a" stroke-width="0.42">I</text><text transform="translate(664.65,170.40) scale(1.05,1)" font-size="15.5" fill="#1a1a1a" stroke="#1a1a1a" stroke-width="0.42">nt</text><text transform="translate(678.24,164.60) scale(0.956,1)" font-size="18" fill="#1a1a1a" stroke="#1a1a1a" stroke-width="0.42">=</text><text transform="translate(693.74,164.60) scale(0.865,1)" font-size="18" fill="#1a1a1a" stroke="#1a1a1a" stroke-width="0.42">1.13</text><text transform="translate(729.35,164.60) scale(1.0,1)" font-size="18" fill="#1a1a1a" stroke="#1a1a1a" stroke-width="0.42">I</text><text transform="translate(733.39,170.40) scale(1.114,1)" font-size="15.5" fill="#1a1a1a" stroke="#1a1a1a" stroke-width="0.42">n</text><text transform="translate(746.95,164.60) scale(1.0,1)" font-size="18" fill="#1a1a1a" stroke="#1a1a1a" stroke-width="0.42">:</text><text transform="translate(756.75,164.60) scale(1.0,1)" font-size="18" fill="#1a1a1a" stroke="#1a1a1a" stroke-width="0.42">t</text><text transform="translate(765.84,164.60) scale(0.956,1)" font-size="18" fill="#1a1a1a" stroke="#1a1a1a" stroke-width="0.42">&gt;</text><text transform="translate(780.10,164.60) scale(1.0,1)" font-size="18" fill="#1a1a1a" stroke="#1a1a1a" stroke-width="0.42">1</text><text transform="translate(794.82,164.60) scale(1.075,1)" font-size="18" fill="#1a1a1a" stroke="#1a1a1a" stroke-width="0.42">h</text><text transform="translate(820.12,164.60) scale(0.875,1)" font-size="18" fill="#1a1a1a" stroke="#1a1a1a" stroke-width="0.42">(T=30°C)</text><text transform="translate(660.40,221.70) scale(1.0,1)" font-size="18" fill="#1a1a1a" stroke="#1a1a1a" stroke-width="0.42">I</text><text transform="translate(665.00,227.50) scale(1.0,1)" font-size="15.5" fill="#1a1a1a" stroke="#1a1a1a" stroke-width="0.42">t</text><text transform="translate(680.08,221.70) scale(0.922,1)" font-size="18" fill="#1a1a1a" stroke="#1a1a1a" stroke-width="0.42">=</text><text transform="translate(693.25,221.70) scale(0.8,1)" font-size="18" fill="#1a1a1a" stroke="#1a1a1a" stroke-width="0.42">1.45</text><text transform="translate(724.50,221.70) scale(1.0,1)" font-size="18" fill="#1a1a1a" stroke="#1a1a1a" stroke-width="0.42">I</text><text transform="translate(730.08,227.50) scale(1.15,1)" font-size="15.5" fill="#1a1a1a" stroke="#1a1a1a" stroke-width="0.42">n</text><text transform="translate(747.75,221.70) scale(1.0,1)" font-size="18" fill="#1a1a1a" stroke="#1a1a1a" stroke-width="0.42">:</text><text transform="translate(757.55,221.70) scale(1.0,1)" font-size="18" fill="#1a1a1a" stroke="#1a1a1a" stroke-width="0.42">t</text><text transform="translate(767.33,221.70) scale(0.967,1)" font-size="18" fill="#1a1a1a" stroke="#1a1a1a" stroke-width="0.42">&lt;</text><text transform="translate(780.95,221.70) scale(1.0,1)" font-size="18" fill="#1a1a1a" stroke="#1a1a1a" stroke-width="0.42">1</text><text transform="translate(794.82,221.70) scale(1.075,1)" font-size="18" fill="#1a1a1a" stroke="#1a1a1a" stroke-width="0.42">h</text><text transform="translate(820.12,221.70) scale(0.875,1)" font-size="18" fill="#1a1a1a" stroke="#1a1a1a" stroke-width="0.42">(T=30°C)</text><text transform="translate(659.26,269.80) scale(0.838,1)" font-size="18" fill="#1a1a1a" stroke="#1a1a1a" stroke-width="0.42">2.55</text><text transform="translate(693.35,269.80) scale(1.0,1)" font-size="18" fill="#1a1a1a" stroke="#1a1a1a" stroke-width="0.42">I</text><text transform="translate(697.82,275.60) scale(1.15,1)" font-size="15.5" fill="#1a1a1a" stroke="#1a1a1a" stroke-width="0.42">n</text><text transform="translate(708.50,269.80) scale(1.0,1)" font-size="18" fill="#1a1a1a" stroke="#1a1a1a" stroke-width="0.42">:</text><text transform="translate(717.20,269.80) scale(1.0,1)" font-size="18" fill="#1a1a1a" stroke="#1a1a1a" stroke-width="0.42">t</text><text transform="translate(726.03,269.80) scale(0.967,1)" font-size="18" fill="#1a1a1a" stroke="#1a1a1a" stroke-width="0.42">=</text><text transform="translate(741.60,269.80) scale(0.8,1)" font-size="18" fill="#1a1a1a" stroke="#1a1a1a" stroke-width="0.42">1-</text><text transform="translate(756.45,269.80) scale(0.953,1)" font-size="18" fill="#1a1a1a" stroke="#1a1a1a" stroke-width="0.42">60</text><text transform="translate(780.30,269.80) scale(0.811,1)" font-size="18" fill="#1a1a1a" stroke="#1a1a1a" stroke-width="0.42">s</text><text transform="translate(794.25,269.80) scale(1.0,1)" font-size="18" fill="#1a1a1a" stroke="#1a1a1a" stroke-width="0.42">(</text><text transform="translate(799.50,269.80) scale(1.0,1)" font-size="18" fill="#1a1a1a" stroke="#1a1a1a" stroke-width="0.42">I</text><text transform="translate(804.08,275.60) scale(1.15,1)" font-size="15.5" fill="#1a1a1a" stroke="#1a1a1a" stroke-width="0.42">n</text><text transform="translate(817.93,269.80) scale(1.067,1)" font-size="18" fill="#1a1a1a" stroke="#1a1a1a" stroke-width="0.42">&lt;</text><text transform="translate(832.43,269.80) scale(0.972,1)" font-size="18" fill="#1a1a1a" stroke="#1a1a1a" stroke-width="0.42">32A)</text><text transform="translate(661.30,310.40) scale(0.913,1)" font-size="18" fill="#1a1a1a" stroke="#1a1a1a" stroke-width="0.42">Type B:</text><text transform="translate(720.97,310.40) scale(0.833,1)" font-size="18" fill="#1a1a1a" stroke="#1a1a1a" stroke-width="0.42">3</text><text transform="translate(734.90,310.40) scale(1.0,1)" font-size="18" fill="#1a1a1a" stroke="#1a1a1a" stroke-width="0.42">I</text><text transform="translate(738.61,316.20) scale(1.086,1)" font-size="15.5" fill="#1a1a1a" stroke="#1a1a1a" stroke-width="0.42">n</text><text transform="translate(747.10,310.40) scale(1.0,1)" font-size="18" fill="#1a1a1a" stroke="#1a1a1a" stroke-width="0.42">:</text><text transform="translate(757.05,310.40) scale(1.0,1)" font-size="18" fill="#1a1a1a" stroke="#1a1a1a" stroke-width="0.42">t</text><text transform="translate(767.16,310.40) scale(0.844,1)" font-size="18" fill="#1a1a1a" stroke="#1a1a1a" stroke-width="0.42">&gt;</text><text transform="translate(781.65,310.40) scale(0.8,1)" font-size="18" fill="#1a1a1a" stroke="#1a1a1a" stroke-width="0.42">0.1</text><text transform="translate(807.50,310.40) scale(1.0,1)" font-size="18" fill="#1a1a1a" stroke="#1a1a1a" stroke-width="0.42">s</text><text transform="translate(721.76,335.00) scale(0.944,1)" font-size="18" fill="#1a1a1a" stroke="#1a1a1a" stroke-width="0.42">5</text><text transform="translate(735.85,335.00) scale(1.0,1)" font-size="18" fill="#1a1a1a" stroke="#1a1a1a" stroke-width="0.42">I</text><text transform="translate(738.86,340.80) scale(1.143,1)" font-size="15.5" fill="#1a1a1a" stroke="#1a1a1a" stroke-width="0.42">n</text><text transform="translate(748.75,335.00) scale(1.0,1)" font-size="18" fill="#1a1a1a" stroke="#1a1a1a" stroke-width="0.42">:</text><text transform="translate(758.45,335.00) scale(1.0,1)" font-size="18" fill="#1a1a1a" stroke="#1a1a1a" stroke-width="0.42">t</text><text transform="translate(767.16,335.00) scale(0.844,1)" font-size="18" fill="#1a1a1a" stroke="#1a1a1a" stroke-width="0.42">&lt;</text><text transform="translate(782.60,335.00) scale(0.8,1)" font-size="18" fill="#1a1a1a" stroke="#1a1a1a" stroke-width="0.42">0.1</text><text transform="translate(808.40,335.00) scale(1.0,1)" font-size="18" fill="#1a1a1a" stroke="#1a1a1a" stroke-width="0.42">s</text><text transform="translate(660.40,368.40) scale(0.99,1)" font-size="18" fill="#1a1a1a" stroke="#1a1a1a" stroke-width="0.42">Type C:</text><text transform="translate(724.77,368.40) scale(0.833,1)" font-size="18" fill="#1a1a1a" stroke="#1a1a1a" stroke-width="0.42">5</text><text transform="translate(737.70,368.40) scale(1.0,1)" font-size="18" fill="#1a1a1a" stroke="#1a1a1a" stroke-width="0.42">I</text><text transform="translate(740.86,374.20) scale(1.143,1)" font-size="15.5" fill="#1a1a1a" stroke="#1a1a1a" stroke-width="0.42">n</text><text transform="translate(751.25,368.40) scale(1.0,1)" font-size="18" fill="#1a1a1a" stroke="#1a1a1a" stroke-width="0.42">:</text><text transform="translate(761.30,368.40) scale(1.0,1)" font-size="18" fill="#1a1a1a" stroke="#1a1a1a" stroke-width="0.42">t</text><text transform="translate(770.07,368.40) scale(0.833,1)" font-size="18" fill="#1a1a1a" stroke="#1a1a1a" stroke-width="0.42">&gt;</text><text transform="translate(784.95,368.40) scale(0.8,1)" font-size="18" fill="#1a1a1a" stroke="#1a1a1a" stroke-width="0.42">0.1</text><text transform="translate(810.30,368.40) scale(1.0,1)" font-size="18" fill="#1a1a1a" stroke="#1a1a1a" stroke-width="0.42">s</text><text transform="translate(714.35,393.00) scale(0.8,1)" font-size="18" fill="#1a1a1a" stroke="#1a1a1a" stroke-width="0.42">10</text><text transform="translate(735.85,393.00) scale(1.0,1)" font-size="18" fill="#1a1a1a" stroke="#1a1a1a" stroke-width="0.42">I</text><text transform="translate(738.86,398.80) scale(1.143,1)" font-size="15.5" fill="#1a1a1a" stroke="#1a1a1a" stroke-width="0.42">n</text><text transform="translate(748.75,393.00) scale(1.0,1)" font-size="18" fill="#1a1a1a" stroke="#1a1a1a" stroke-width="0.42">:</text><text transform="translate(759.45,393.00) scale(1.0,1)" font-size="18" fill="#1a1a1a" stroke="#1a1a1a" stroke-width="0.42">t</text><text transform="translate(767.16,393.00) scale(0.844,1)" font-size="18" fill="#1a1a1a" stroke="#1a1a1a" stroke-width="0.42">&lt;</text><text transform="translate(782.60,393.00) scale(0.8,1)" font-size="18" fill="#1a1a1a" stroke="#1a1a1a" stroke-width="0.42">0.1</text><text transform="translate(808.90,393.00) scale(1.0,1)" font-size="18" fill="#1a1a1a" stroke="#1a1a1a" stroke-width="0.42">s</text></svg>
</body></html>
